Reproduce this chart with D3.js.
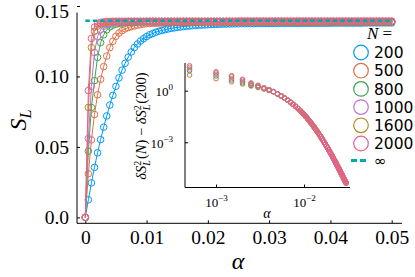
<!DOCTYPE html>
<html>
<head>
<meta charset="utf-8">
<script src="https://cdn.jsdelivr.net/npm/d3@7"></script>
<style>
  body { margin: 0; background: #fff; }
  svg { display: block; }
</style>
</head>
<body>
<script>
"use strict";

// alpha grid of the main panel
var alpha = [0,0.0005,0.001,0.0015,0.002,0.0025,0.003,0.0035,0.004,0.0045,
  0.005,0.0055,0.006,0.0065,0.007,0.0075,0.008,0.0085,0.009,0.0095,
  0.01,0.0105,0.011,0.0115,0.012,0.0125,0.013,0.0135,0.014,0.0145,
  0.015,0.0155,0.016,0.0165,0.017,0.0175,0.018,0.0185,0.019,0.0195,
  0.02,0.0205,0.021,0.0215,0.022,0.0225,0.023,0.0235,0.024,0.0245,
  0.025,0.0255,0.026,0.0265,0.027,0.0275,0.028,0.0285,0.029,0.0295,
  0.03,0.0305,0.031,0.0315,0.032,0.0325,0.033,0.0335,0.034,0.0345,
  0.035,0.0355,0.036,0.0365,0.037,0.0375,0.038,0.0385,0.039,0.0395,
  0.04,0.0405,0.041,0.0415,0.042,0.0425,0.043,0.0435,0.044,0.0445,
  0.045,0.0455,0.046,0.0465,0.047,0.0475,0.048,0.0485,0.049,0.0495,
  0.05];

var sN200 = [0,0.0125,0.0245,0.0355,0.0458,0.0552,0.0640,0.0720,0.0797,0.0866,
  0.0930,0.0990,0.1045,0.1094,0.1137,0.1174,0.1205,0.1230,0.1251,0.1268,
  0.1283,0.1296,0.1305,0.1314,0.1321,0.1327,0.1332,0.1337,0.1341,0.1345,
  0.1348,0.1351,0.1354,0.1356,0.1358,0.1360,0.1362,0.1364,0.1365,0.1366,
  0.1367,0.1368,0.1369,0.1370,0.1371,0.1372,0.1372,0.1373,0.1373,0.1374,
  0.1374,0.1375,0.1375,0.1375,0.1375,0.1375,0.1376,0.1376,0.1376,0.1376,
  0.1376,0.1376,0.1376,0.1377,0.1377,0.1377,0.1377,0.1377,0.1377,0.1377,
  0.1377,0.1378,0.1378,0.1378,0.1378,0.1378,0.1378,0.1378,0.1378,0.1378,
  0.1378,0.1379,0.1379,0.1379,0.1379,0.1379,0.1379,0.1379,0.1379,0.1379,
  0.1379,0.1380,0.1380,0.1380,0.1380,0.1380,0.1380,0.1380,0.1380,0.1380,
  0.1380];

var sN500 = [0,0.031,0.055,0.073,0.087,0.098,0.107,0.1145,0.1205,0.1250,
  0.1285,0.1308,0.1325,0.1338,0.1347,0.1354,0.1359,0.1364,0.1368,0.1372,
  0.1375,0.1376,0.1377,0.1378,0.1379,0.1380,0.1380,0.1381,0.1381,0.1382,
  0.1382,0.1382,0.1383,0.1383,0.1383,0.1383,0.1384,0.1384,0.1384,0.1384,
  0.1384,0.1384,0.1384,0.1384,0.1384,0.1384,0.1384,0.1384,0.1384,0.1384,
  0.1385,0.1385,0.1385,0.1385,0.1385,0.1385,0.1385,0.1385,0.1385,0.1385,
  0.1385,0.1385,0.1385,0.1385,0.1385,0.1385,0.1385,0.1385,0.1385,0.1385,
  0.1385,0.1385,0.1385,0.1385,0.1385,0.1385,0.1385,0.1385,0.1385,0.1385,
  0.1386,0.1386,0.1386,0.1386,0.1386,0.1386,0.1386,0.1386,0.1386,0.1386,
  0.1386,0.1386,0.1386,0.1386,0.1386,0.1386,0.1386,0.1386,0.1386,0.1386,
  0.1386];

var sN800 = [0,0.047,0.078,0.097,0.1135,0.1240,0.1296,0.1331,0.1352,0.1364,
  0.1371,0.1376,0.1379,0.1381,0.1383,0.1384,0.1385,0.1385,0.1386,0.1386,
  0.1387,0.1387,0.1387,0.1387,0.1387,0.1387,0.1387,0.1387,0.1387,0.1387,
  0.1387,0.1387,0.1387,0.1387,0.1387,0.1387,0.1387,0.1387,0.1387,0.1387,
  0.1388,0.1388,0.1388,0.1388,0.1388,0.1388,0.1388,0.1388,0.1388,0.1388,
  0.1388,0.1388,0.1388,0.1388,0.1388,0.1388,0.1388,0.1388,0.1388,0.1388,
  0.1388,0.1388,0.1388,0.1388,0.1388,0.1388,0.1388,0.1388,0.1388,0.1388,
  0.1388,0.1388,0.1388,0.1388,0.1388,0.1388,0.1388,0.1388,0.1388,0.1388,
  0.1388,0.1388,0.1388,0.1388,0.1388,0.1388,0.1388,0.1388,0.1388,0.1388,
  0.1388,0.1388,0.1388,0.1388,0.1388,0.1388,0.1388,0.1388,0.1388,0.1388,
  0.1388];

var sN1000 = [0,0.056,0.093,0.1170,0.1283,0.1332,0.1356,0.1369,0.1376,0.1380,
  0.1383,0.1385,0.1386,0.1387,0.1388,0.1388,0.1388,0.1388,0.1388,0.1388,
  0.1389,0.1389,0.1389,0.1389,0.1389,0.1389,0.1389,0.1389,0.1389,0.1389,
  0.1389,0.1389,0.1389,0.1389,0.1389,0.1389,0.1389,0.1389,0.1389,0.1389,
  0.1389,0.1389,0.1389,0.1389,0.1389,0.1389,0.1389,0.1389,0.1389,0.1389,
  0.1389,0.1389,0.1389,0.1389,0.1389,0.1389,0.1389,0.1389,0.1389,0.1389,
  0.1390,0.1390,0.1390,0.1390,0.1390,0.1390,0.1390,0.1390,0.1390,0.1390,
  0.1390,0.1390,0.1390,0.1390,0.1390,0.1390,0.1390,0.1390,0.1390,0.1390,
  0.1390,0.1390,0.1390,0.1390,0.1390,0.1390,0.1390,0.1390,0.1390,0.1390,
  0.1390,0.1390,0.1390,0.1390,0.1390,0.1390,0.1390,0.1390,0.1390,0.1390,
  0.1390];

var sN1600 = [0,0.078,0.1205,0.1321,0.1357,0.1372,0.1380,0.1384,0.1386,0.1387,
  0.1388,0.1389,0.1389,0.1389,0.1390,0.1390,0.1390,0.1390,0.1390,0.1390,
  0.1391,0.1391,0.1391,0.1391,0.1391,0.1391,0.1391,0.1391,0.1391,0.1391,
  0.1391,0.1391,0.1391,0.1391,0.1391,0.1391,0.1391,0.1391,0.1391,0.1391,
  0.1391,0.1391,0.1391,0.1391,0.1391,0.1391,0.1391,0.1391,0.1391,0.1391,
  0.1391,0.1391,0.1391,0.1391,0.1391,0.1391,0.1391,0.1391,0.1391,0.1391,
  0.1391,0.1391,0.1391,0.1391,0.1391,0.1391,0.1391,0.1391,0.1391,0.1391,
  0.1391,0.1391,0.1391,0.1391,0.1391,0.1391,0.1391,0.1391,0.1391,0.1391,
  0.1391,0.1391,0.1391,0.1391,0.1391,0.1391,0.1391,0.1391,0.1391,0.1391,
  0.1391,0.1391,0.1391,0.1391,0.1391,0.1391,0.1391,0.1391,0.1391,0.1391,
  0.1391];

var sN2000 = [0,0.090,0.1270,0.1350,0.1375,0.1384,0.1388,0.1390,0.1391,0.1392,
  0.1392,0.1392,0.1392,0.1392,0.1392,0.1392,0.1392,0.1392,0.1392,0.1392,
  0.1392,0.1392,0.1392,0.1392,0.1392,0.1392,0.1392,0.1392,0.1392,0.1392,
  0.1392,0.1392,0.1392,0.1392,0.1392,0.1392,0.1392,0.1392,0.1392,0.1392,
  0.1392,0.1392,0.1392,0.1392,0.1392,0.1392,0.1392,0.1392,0.1392,0.1392,
  0.1393,0.1393,0.1393,0.1393,0.1393,0.1393,0.1393,0.1393,0.1393,0.1393,
  0.1393,0.1393,0.1393,0.1393,0.1393,0.1393,0.1393,0.1393,0.1393,0.1393,
  0.1393,0.1393,0.1393,0.1393,0.1393,0.1393,0.1393,0.1393,0.1393,0.1393,
  0.1393,0.1393,0.1393,0.1393,0.1393,0.1393,0.1393,0.1393,0.1393,0.1393,
  0.1393,0.1393,0.1393,0.1393,0.1393,0.1393,0.1393,0.1393,0.1393,0.1393,
  0.1393];

var sInf = 0.1395;

var nLabels = ["200", "500", "800", "1000", "1600", "2000"];
var colors = ["#009afa", "#e36f47", "#3ea44e", "#c371d2", "#ac8e18", "#ed5e93"];
var infColor = "#00a9ad";

var xTicks = [0, 0.01, 0.02, 0.03, 0.04, 0.05];
var xTickLabels = ["0", "0.01", "0.02", "0.03", "0.04", "0.05"];
var yTicks = [0, 0.05, 0.10, 0.15];
var yTickLabels = ["0.0", "0.05", "0.10", "0.15"];

// inset: dS^2_L(N) - dS^2_L(200)
var insetAlpha = [0.0005,0.001,0.0015,0.002,0.0025,0.003,0.0035,0.004,0.0045,0.005,
  0.0055,0.006,0.0065,0.007,0.0075,0.008,0.0085,0.009,0.0095,0.01,
  0.0105,0.011,0.0115,0.012,0.0125,0.013,0.0135,0.014,0.0145,0.015,
  0.0155,0.016,0.0165,0.017,0.0175,0.018,0.0185,0.019,0.0195,0.02,
  0.0205,0.021,0.0215,0.022,0.0225,0.023,0.0235,0.024,0.0245,0.025,
  0.0255,0.026,0.0265,0.027,0.0275,0.028,0.0285,0.029,0.0295,0.03];

// first eight points differ between N, the rest coincide
var insetHead500 = [8.1, 5.0, 3.3, 2.45, 1.87, 1.55, 1.25, 1.02];
var insetHead800 = [14.5, 7.1, 4.2, 2.9, 2.05, 1.65, 1.32, 1.07];
var insetHead1000 = [18.2, 8.9, 5.0, 3.4, 2.3, 1.8, 1.38, 1.10];
var insetHead1600 = [23, 10.7, 6.5, 4.1, 2.6, 1.95, 1.44, 1.13];
var insetHead2000 = [28.2, 12.6, 7.41, 4.57, 2.82, 2.04, 1.48, 1.15];
var insetTail = [0.871,0.646,0.490,0.372,0.282,0.214,0.162,0.123,0.0933,0.0708,
  0.0537,0.0407,0.0306,0.0231,0.0175,0.0133,0.0101,0.00769,0.00589,0.00452,
  0.00348,0.00269,0.00207,0.00161,0.00126,9.8e-4,7.67e-4,6.03e-4,4.74e-4,3.75e-4,
  2.96e-4,2.36e-4,1.88e-4,1.50e-4,1.20e-4,9.66e-5,7.78e-5,6.30e-5,5.09e-5,4.14e-5,
  3.38e-5,2.76e-5,2.26e-5,1.86e-5,1.53e-5,1.27e-5,1.05e-5,8.75e-6,7.31e-6,6.11e-6,
  5.13e-6,4.32e-6];

var W = 415, H = 277;
var serif = "'Liberation Serif', 'DejaVu Serif', serif";
var sans = "'DejaVu Sans', sans-serif";

var svg = d3.select("body").append("svg")
    .attr("width", W)
    .attr("height", H);

var x = d3.scaleLinear().domain([0, 0.05]).range([85.3, 391.7]);
var y = d3.scaleLinear().domain([0, 0.15]).range([217.4, 6]);

// spines
svg.append("line")
    .attr("x1", 77).attr("x2", 77)
    .attr("y1", 12.5).attr("y2", 223.3)
    .attr("stroke", "#000").attr("stroke-width", 1);
svg.append("line")
    .attr("x1", 77).attr("x2", 402)
    .attr("y1", 223.3).attr("y2", 223.3)
    .attr("stroke", "#000").attr("stroke-width", 1);

var yAxis = svg.append("g")
    .attr("transform", "translate(77,0)")
    .call(d3.axisLeft(y)
        .tickValues(yTicks)
        .tickFormat(function (d, i) { return yTickLabels[i]; })
        .tickSizeInner(-3)
        .tickSizeOuter(0)
        .tickPadding(8));
var xAxis = svg.append("g")
    .attr("transform", "translate(0,223.3)")
    .call(d3.axisBottom(x)
        .tickValues(xTicks)
        .tickFormat(function (d, i) { return xTickLabels[i]; })
        .tickSizeInner(-3)
        .tickSizeOuter(0)
        .tickPadding(7));
[xAxis, yAxis].forEach(function (g) {
    g.select(".domain").remove();
    g.selectAll("text")
        .attr("font-family", serif)
        .attr("font-size", 19.5)
        .attr("fill", "#000");
});
// top label sits right at the edge; nudge it in
yAxis.selectAll(".tick text")
    .filter(function (d) { return d === 0.15; })
    .attr("dy", "0.6em");

// axis titles
svg.append("text")
    .attr("x", 238).attr("y", 269)
    .attr("text-anchor", "middle")
    .attr("font-family", serif)
    .attr("font-style", "italic")
    .attr("font-size", 24)
    .text("α");

var yTitle = svg.append("text")
    .attr("transform", "translate(26,120) rotate(-90)")
    .attr("text-anchor", "middle")
    .attr("font-family", serif)
    .attr("font-style", "italic")
    .attr("font-size", 24);
yTitle.append("tspan").text("S");
yTitle.append("tspan").attr("font-size", 16).attr("dy", 5).text("L");

// main series
var series = [sN200, sN500, sN800, sN1000, sN1600, sN2000];
var line = d3.line()
    .x(function (d) { return x(d[0]); })
    .y(function (d) { return y(d[1]); });

series.forEach(function (vals, k) {
    var pts = alpha.map(function (a, i) { return [a, vals[i]]; });
    var g = svg.append("g");
    g.append("path")
        .datum(pts)
        .attr("d", line)
        .attr("fill", "none")
        .attr("stroke", colors[k])
        .attr("stroke-width", 1);
    g.selectAll("circle")
        .data(pts)
        .enter()
        .append("circle")
        .attr("cx", function (d) { return x(d[0]); })
        .attr("cy", function (d) { return y(d[1]); })
        .attr("r", 3.3)
        .attr("fill", "none")
        .attr("stroke", colors[k])
        .attr("stroke-width", 1);
});

// N -> infinity
svg.append("line")
    .attr("x1", x(0)).attr("x2", x(0.05))
    .attr("y1", y(sInf)).attr("y2", y(sInf))
    .attr("stroke", infColor)
    .attr("stroke-width", 2.6)
    .attr("stroke-dasharray", "4.5,3");

// legend
var legend = svg.append("g");
var nHead = legend.append("text")
    .attr("x", 367).attr("y", 39)
    .attr("font-family", serif)
    .attr("font-size", 17);
nHead.append("tspan").attr("font-style", "italic").text("N");
nHead.append("tspan").text(" =");

nLabels.forEach(function (lab, k) {
    var cy = 52.5 + k * 18.2;
    legend.append("circle")
        .attr("cx", 361).attr("cy", cy).attr("r", 7.3)
        .attr("fill", "none")
        .attr("stroke", colors[k])
        .attr("stroke-width", 1.2);
    legend.append("text")
        .attr("x", 374).attr("y", cy + 5.6)
        .attr("font-family", sans)
        .attr("font-size", 15.5)
        .text(lab);
});
legend.append("line")
    .attr("x1", 351).attr("x2", 369)
    .attr("y1", 160.5).attr("y2", 160.5)
    .attr("stroke", infColor)
    .attr("stroke-width", 3)
    .attr("stroke-dasharray", "6,3");
legend.append("text")
    .attr("x", 374).attr("y", 166)
    .attr("font-family", sans)
    .attr("font-size", 15)
    .text("∞");

// inset
var ix = d3.scaleLog().domain([4.44e-4, 0.0333]).range([185, 350]);
var iy = d3.scaleLog().domain([2.34e-6, 40.7]).range([187.5, 63]);

var inset = svg.append("g");
inset.append("line")
    .attr("x1", 185).attr("x2", 185).attr("y1", 63).attr("y2", 187.5)
    .attr("stroke", "#000").attr("stroke-width", 1);
inset.append("line")
    .attr("x1", 185).attr("x2", 350).attr("y1", 187.5).attr("y2", 187.5)
    .attr("stroke", "#000").attr("stroke-width", 1);

var ixAxis = inset.append("g")
    .attr("transform", "translate(0,187.5)")
    .call(d3.axisBottom(ix).tickValues([1e-3, 1e-2]).tickFormat("")
        .tickSizeInner(-3).tickSizeOuter(0));
var iyAxis = inset.append("g")
    .attr("transform", "translate(185,0)")
    .call(d3.axisLeft(iy).tickValues([1e-3, 1]).tickFormat("")
        .tickSizeInner(-3).tickSizeOuter(0));
ixAxis.select(".domain").remove();
iyAxis.select(".domain").remove();

function powLabel(sel, exp) {
    sel.append("tspan").text("10");
    sel.append("tspan").attr("font-size", 9).attr("dy", -6).text(exp);
}
ixAxis.selectAll(".tick").each(function (d) {
    var t = d3.select(this).append("text")
        .attr("x", 0).attr("y", 19.5)
        .attr("text-anchor", "middle")
        .attr("font-family", serif)
        .attr("font-size", 13)
        .attr("fill", "#000");
    powLabel(t, d === 1e-3 ? "−3" : "−2");
});
iyAxis.selectAll(".tick").each(function (d) {
    var t = d3.select(this).append("text")
        .attr("x", -12).attr("y", 5)
        .attr("text-anchor", "end")
        .attr("font-family", serif)
        .attr("font-size", 13)
        .attr("fill", "#000");
    powLabel(t, d === 1 ? "0" : "−3");
});

inset.append("text")
    .attr("x", 267).attr("y", 218)
    .attr("text-anchor", "middle")
    .attr("font-family", serif)
    .attr("font-style", "italic")
    .attr("font-size", 14)
    .text("α");

var iTitle = inset.append("text")
    .attr("transform", "translate(146,126) rotate(-90)")
    .attr("text-anchor", "middle")
    .attr("font-family", serif)
    .attr("font-size", 14.5);
iTitle.append("tspan").attr("font-style", "italic").text("δS");
iTitle.append("tspan").attr("font-size", 10).attr("dy", -5.5).text("2");
iTitle.append("tspan").attr("font-size", 10).attr("font-style", "italic").attr("dx", -5).attr("dy", 9.5).text("L");
iTitle.append("tspan").attr("dy", -4).attr("dx", 1).text("(");
iTitle.append("tspan").attr("font-style", "italic").text("N");
iTitle.append("tspan").text(")  −  ");
iTitle.append("tspan").attr("font-style", "italic").text("δS");
iTitle.append("tspan").attr("font-size", 10).attr("dy", -5.5).text("2");
iTitle.append("tspan").attr("font-size", 10).attr("font-style", "italic").attr("dx", -5).attr("dy", 9.5).text("L");
iTitle.append("tspan").attr("dy", -4).attr("dx", 1).text("(200)");

var insetHeads = [insetHead500, insetHead800, insetHead1000, insetHead1600, insetHead2000];
insetHeads.forEach(function (head, k) {
    var vals = head.concat(insetTail);
    var pts = insetAlpha.map(function (a, i) { return [a, vals[i]]; });
    inset.append("g")
        .selectAll("circle")
        .data(pts)
        .enter()
        .append("circle")
        .attr("cx", function (d) { return ix(d[0]); })
        .attr("cy", function (d) { return iy(d[1]); })
        .attr("r", 2.3)
        .attr("fill", "none")
        .attr("stroke", colors[k + 1])
        .attr("stroke-width", 1);
});
</script>
</body>
</html>
